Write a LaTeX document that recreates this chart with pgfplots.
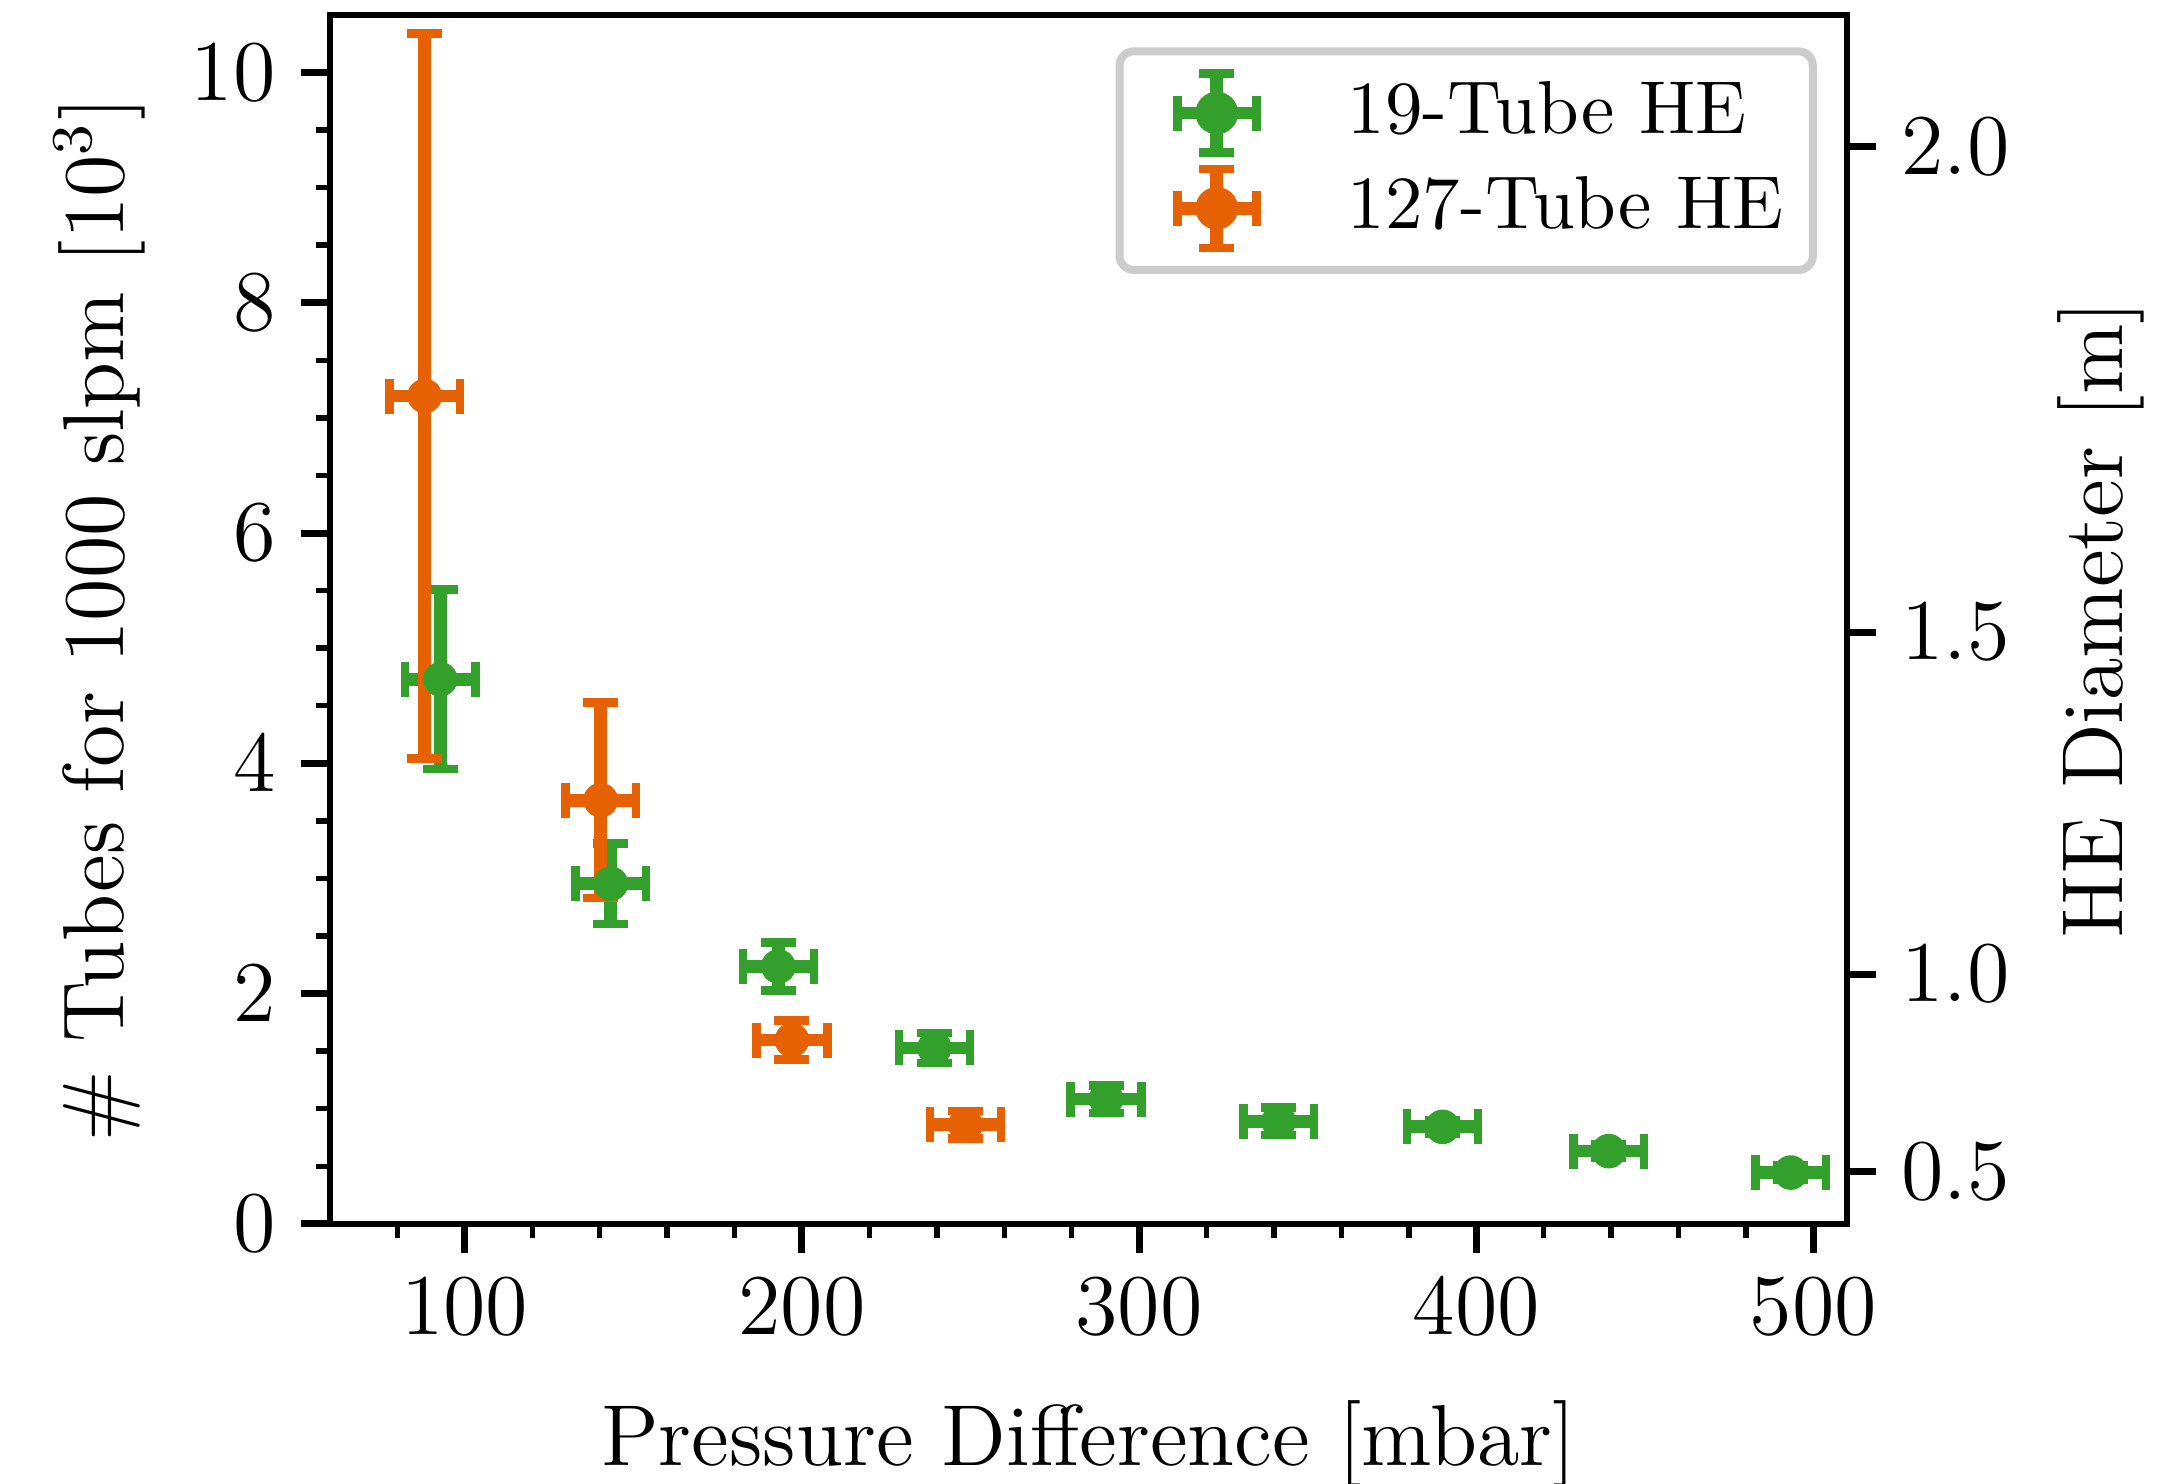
\documentclass[border=0pt]{standalone}
\usepackage{pgfplots}
\pgfplotsset{compat=1.18}
\usepackage{pgfplotstable}

\definecolor{cgreen}{HTML}{33A02C}
\definecolor{corange}{HTML}{E66101}

% columns: pressure difference, tubes [10^3], x error, y error
\pgfplotstableread{
x      y      ex    ey
92.7   4.730  10.5  0.78
143.3  2.955  10.5  0.35
193.0  2.236  10.5  0.21
239.3  1.528  10.5  0.13
290.2  1.084  10.5  0.12
341.4  0.890  10.5  0.12
390.0  0.843  10.5  0.06
439.3  0.632  10.5  0.06
493.3  0.446  10.5  0.06
}\tubesnineteen

\pgfplotstableread{
x      y      ex    ey
88.1   7.190  10.5  3.15
140.3  3.680  10.5  0.85
197.0  1.597  10.5  0.17
248.5  0.861  10.5  0.12
}\tubesonetwentyseven

\pgfplotsset{
  errcross/.style={
    only marks, mark=*, mark size=2.25pt, color=#1,
    mark options={draw=#1, fill=#1, line width=0.3pt, solid},
    error bars/.cd,
      x dir=both, x explicit, y dir=both, y explicit,
      error bar style={line width=1.76pt, color=#1, solid},
      error mark options={rotate=90, mark size=2.43pt, line width=1.18pt, color=#1, solid},
    /pgfplots/.cd,
    legend image code/.code={
      \path (-5.46pt,0) (21.1pt,0);
      \draw[#1, line width=1.76pt] (0pt,0) -- (10.96pt,0);
      \draw[#1, line width=1.76pt] (5.48pt,-5.48pt) -- (5.48pt,5.48pt);
      \draw[#1, line width=1.18pt]
        (0pt,-2.43pt) -- (0pt,2.43pt)
        (10.96pt,-2.43pt) -- (10.96pt,2.43pt)
        (3.05pt,-5.48pt) -- (7.91pt,-5.48pt)
        (3.05pt,5.48pt) -- (7.91pt,5.48pt);
      \fill[#1] (5.48pt,0) circle (2.4pt);
    },
  },
  commonbox/.style={
    scale only axis, width=210.5pt, height=167.75pt,
    xmin=60, xmax=510, ymin=0, ymax=10.5,
    tick align=outside,
    major tick length=4.02pt, minor tick length=1.98pt,
    every major tick/.append style={line width=0.97pt, black},
    every minor tick/.append style={line width=0.75pt, black},
    axis line style={line width=0.93pt},
    tick label style={font=\fontsize{12}{14.4}\selectfont},
    label style={font=\fontsize{12}{14.4}\selectfont},
  },
}

\begin{document}
\begin{tikzpicture}
\begin{axis}[
  commonbox, name=main,
  xtick={100,200,300,400,500},
  minor xtick={80,120,140,160,180,220,240,260,280,320,340,360,380,420,440,460,480},
  ytick={0,2,4,6,8,10},
  minor ytick={0.5,1.0,...,10.0},
  xtick pos=left, ytick pos=left,
  xlabel={Pressure Difference [mbar]},
  ylabel={\# Tubes for 1000 slpm [$10^3$]},
  xlabel style={at={(axis description cs:0.5,-0.2002)}, anchor=base},
  ylabel style={at={(axis description cs:-0.1364,0.5)}, anchor=base},
  legend style={at={(1,1)}, anchor=north east, xshift=-4.2pt, yshift=-4.5pt,
    draw=black!20, line width=1.11pt, rounded corners=2pt, fill=white,
    inner xsep=2pt, inner ysep=2.2pt, row sep=0.5pt,
    font=\fontsize{10.4}{12.5}\selectfont},
  legend cell align=left,
]
\addplot+[errcross=cgreen] table[x=x, y=y, x error=ex, y error=ey] {\tubesnineteen};
\addlegendentry{19-Tube HE}
\addplot+[errcross=corange] table[x=x, y=y, x error=ex, y error=ey] {\tubesonetwentyseven};
\addlegendentry{127-Tube HE}
\end{axis}
% diameter scale on the right, placed at the matching tube counts
\begin{axis}[
  commonbox, at={(main.south west)}, anchor=south west,
  hide x axis,
  ytick={0.456,2.17,5.14,9.36},
  yticklabels={$0.5$,$1.0$,$1.5$,$2.0$},
  minor ytick={},
  ytick pos=right, yticklabel pos=right,
  ylabel={HE Diameter [m]},
  ylabel style={at={(axis description cs:1.1813,0.5)}, anchor=base},
]
\end{axis}
\pgfresetboundingbox
\path (main.south west) ++(-45.79pt,-36.08pt) rectangle ++(300.81pt,205.9pt);
\end{tikzpicture}
\end{document}
